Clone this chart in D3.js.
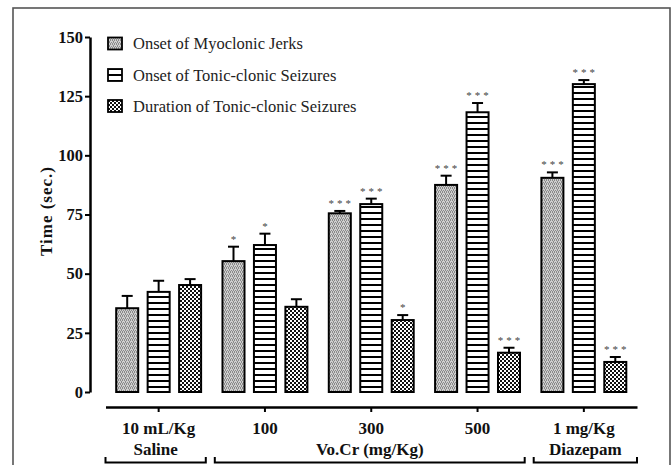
<!DOCTYPE html>
<html>
<head>
<meta charset="utf-8">
<script src="https://cdn.jsdelivr.net/npm/d3@7"></script>
<style>
  html, body { margin: 0; padding: 0; background: #fff; }
  svg { display: block; font-family: "Liberation Serif", "Times New Roman", serif; }
</style>
</head>
<body>
<svg id="chart" width="672" height="465"></svg>
<script>
// ---- data ----
const groups = ["10 mL/Kg", "100", "300", "500", "1 mg/Kg"];
const seriesNames = ["Onset of Myoclonic Jerks", "Onset of Tonic-clonic Seizures", "Duration of Tonic-clonic Seizures"];
const myoclonicOnset = [35.4, 55.3, 75.5, 87.5, 90.5];
const myoclonicErr   = [5.2, 6.1, 1.0, 3.9, 2.3];
const tonicOnset     = [42.3, 62.1, 79.4, 118.2, 130.1];
const tonicErr       = [4.7, 4.8, 2.3, 3.9, 1.7];
const tonicDuration  = [45.2, 36.0, 30.4, 16.6, 12.7];
const durationErr    = [2.5, 3.2, 2.1, 2.1, 2.1];
const myoclonicStars = ["", "*", "***", "***", "***"];
const tonicStars     = ["", "*", "***", "***", "***"];
const durationStars  = ["", "", "*", "***", "***"];
const yTicks = [0, 25, 50, 75, 100, 125, 150];
const groupLabels = ["Saline", "Vo.Cr (mg/Kg)", "Diazepam"];
const groupFrom = [0, 1, 4];
const groupTo = [0, 3, 4];
const yTitle = "Time (sec.)";

const seriesValues = [myoclonicOnset, tonicOnset, tonicDuration];
const seriesErrors = [myoclonicErr, tonicErr, durationErr];
const seriesStars = [myoclonicStars, tonicStars, durationStars];
const patternIds = ["patGray", "patStripe", "patCheck"];

const svg = d3.select("#chart");

// ---- patterns ----
const defs = svg.append("defs");
const pg = defs.append("pattern").attr("id", "patGray").attr("patternUnits", "userSpaceOnUse")
  .attr("width", 4).attr("height", 4);
pg.append("rect").attr("width", 4).attr("height", 4).attr("fill", "#cfcfcf");
[[0,0],[2,0],[1,1],[3,2],[1,2],[0,3],[2,3]].forEach(([a,b]) =>
  pg.append("rect").attr("x", a).attr("y", b).attr("width", 1).attr("height", 1).attr("fill", "#8a8a8a"));

const ps = defs.append("pattern").attr("id", "patStripe").attr("patternUnits", "userSpaceOnUse")
  .attr("width", 6).attr("height", 6).attr("y", 2);
ps.append("rect").attr("width", 6).attr("height", 6).attr("fill", "#fff");
ps.append("rect").attr("width", 6).attr("height", 2).attr("fill", "#000");

const pc = defs.append("pattern").attr("id", "patCheck").attr("patternUnits", "userSpaceOnUse")
  .attr("width", 4).attr("height", 4);
pc.append("rect").attr("width", 4).attr("height", 4).attr("fill", "#fff");
pc.append("rect").attr("x", 0).attr("y", 0).attr("width", 2).attr("height", 2).attr("fill", "#111");
pc.append("rect").attr("x", 2).attr("y", 2).attr("width", 2).attr("height", 2).attr("fill", "#111");

// ---- frame ----
svg.append("rect").attr("x", 13).attr("y", 8).attr("width", 657).attr("height", 470)
  .attr("fill", "none").attr("stroke", "#555").attr("stroke-width", 1.6);

// ---- scales ----
const y = d3.scaleLinear().domain([0, 150]).range([392, 37]);
const x0 = d3.scaleBand().domain(groups).range([105.5, 637]).padding(0);
const x1 = d3.scaleBand().domain(seriesNames).range([0, x0.bandwidth()])
  .paddingInner(0.30).paddingOuter(0.34);

// ---- y axis ----
const yAxis = svg.append("g").attr("transform", "translate(90,0)")
  .call(d3.axisLeft(y).tickValues(yTicks).tickSize(5).tickSizeOuter(0).tickPadding(2));
yAxis.select(".domain").attr("stroke", "#000").attr("stroke-width", 2.5);
yAxis.selectAll(".tick line").attr("stroke", "#000").attr("stroke-width", 2);
yAxis.selectAll(".tick text").attr("font-size", 16.5).attr("font-weight", "bold")
  .attr("font-family", "Liberation Serif").attr("fill", "#111");

svg.append("text")
  .attr("transform", "translate(52,211) rotate(-90)")
  .attr("text-anchor", "middle")
  .attr("font-size", 17).attr("font-weight", "bold").attr("letter-spacing", 1)
  .attr("fill", "#111")
  .text(yTitle);

// ---- x axis ----
const xAxis = svg.append("g").attr("transform", "translate(0,407)")
  .call(d3.axisBottom(x0).tickSize(5).tickSizeOuter(0));
xAxis.select(".domain").attr("stroke", "#000").attr("stroke-width", 2.5);
xAxis.selectAll(".tick line").attr("stroke", "#000").attr("stroke-width", 2);
xAxis.selectAll(".tick text").attr("y", 27).attr("dy", 0)
  .attr("font-size", 17).attr("font-weight", "bold").attr("font-family", "Liberation Serif")
  .attr("fill", "#111");

// group brackets
const last = groups.length - 1;
groupLabels.forEach((lab, i) => {
  const xs = x0(groups[groupFrom[i]]) + (groupFrom[i] > 0 ? 3 : 0);
  const xe = x0(groups[groupTo[i]]) + x0.bandwidth() - (groupTo[i] < last ? 6 : 0);
  svg.append("path")
    .attr("d", `M${xs},457V462.5H${xe}V457`)
    .attr("fill", "none").attr("stroke", "#000").attr("stroke-width", 2);
  svg.append("text").attr("x", (xs + xe) / 2).attr("y", 455)
    .attr("text-anchor", "middle").attr("font-size", 17).attr("font-weight", "bold")
    .attr("fill", "#111").text(lab);
});

// ---- bars ----
const plot = svg.append("g");
seriesNames.forEach((s, si) => {
  const vals = seriesValues[si];
  const errs = seriesErrors[si];
  const stars = seriesStars[si];
  groups.forEach((g, gi) => {
    const bx = x0(g) + x1(s);
    const bw = x1.bandwidth();
    const cx = bx + bw / 2;
    const top = vals[gi] + errs[gi];
    // error bar
    plot.append("line").attr("x1", cx).attr("x2", cx).attr("y1", y(vals[gi])).attr("y2", y(top))
      .attr("stroke", "#000").attr("stroke-width", 2);
    plot.append("line").attr("x1", cx - 5.5).attr("x2", cx + 5.5).attr("y1", y(top)).attr("y2", y(top))
      .attr("stroke", "#000").attr("stroke-width", 2);
    // bar
    plot.append("rect").attr("x", bx).attr("y", y(vals[gi])).attr("width", bw)
      .attr("height", y(0) - y(vals[gi]))
      .attr("fill", `url(#${patternIds[si]})`).attr("stroke", "#000").attr("stroke-width", 2);
    // significance stars
    if (stars[gi]) {
      plot.append("text").attr("x", cx + 1.5).attr("y", y(top) - 4)
        .attr("text-anchor", "middle").attr("font-size", 11).attr("letter-spacing", 3)
        .attr("fill", "#444").text(stars[gi]);
    }
  });
});

// ---- legend ----
const legendY = [43.5, 75, 106];
const legend = svg.append("g");
seriesNames.forEach((s, i) => {
  legend.append("rect").attr("x", 108).attr("y", legendY[i] - 6).attr("width", 14).attr("height", 12)
    .attr("fill", `url(#${patternIds[i]})`).attr("stroke", "#000").attr("stroke-width", 1.8);
  legend.append("text").attr("x", 133).attr("y", legendY[i] + 5.5)
    .attr("font-size", 16.5).attr("fill", "#222").text(s);
});
</script>
</body>
</html>
